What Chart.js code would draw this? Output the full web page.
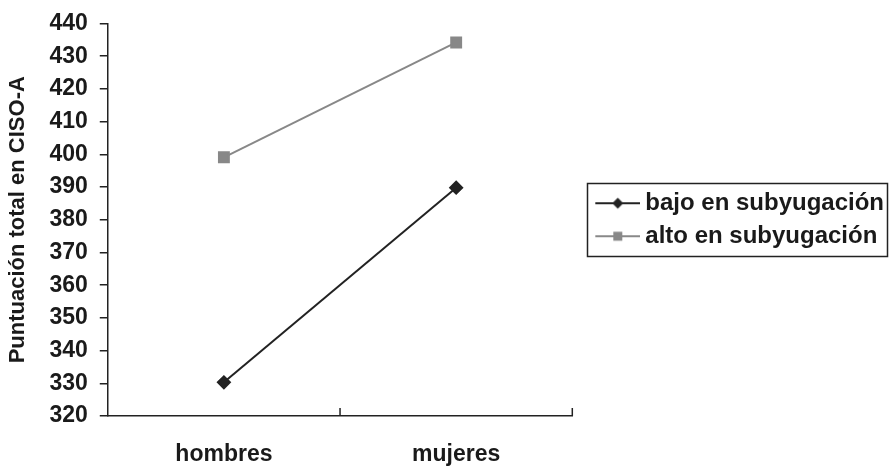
<!DOCTYPE html>
<html>
<head>
<meta charset="utf-8">
<script src="https://cdn.jsdelivr.net/npm/chart.js@4/dist/chart.umd.min.js"></script>
<style>
    html, body { margin: 0; padding: 0; background: #fff; }
</style>
</head>
<body>
<canvas id="chart" width="890" height="466"></canvas>
<script>
const categories = ["hombres", "mujeres"];
const seriesNames = ["bajo en subyugación", "alto en subyugación"];
const bajoValues = [330.3, 389.8];
const altoValues = [399.1, 434.2];
const yMin = 320;
const yMax = 440;
const yStep = 10;

const axisColor = "#222";
const textColor = "#1a1a1a";
const bajoColor = "#222";
const altoColor = "#888";

Chart.defaults.font.family = "'Liberation Sans', Arial, sans-serif";
Chart.defaults.font.weight = "bold";
Chart.defaults.color = textColor;

// line + marker picture for the legend; the left part stays blank so the
// sample sits close to its text
function legendSample(color, marker) {
    const c = document.createElement("canvas");
    c.width = 66;
    c.height = 14;
    const g = c.getContext("2d");
    g.strokeStyle = color;
    g.lineWidth = 2;
    g.beginPath();
    g.moveTo(21, 7);
    g.lineTo(66, 7);
    g.stroke();
    g.fillStyle = color;
    g.beginPath();
    if (marker === "diamond") {
        g.moveTo(43.5, 1.5);
        g.lineTo(49, 7);
        g.lineTo(43.5, 12.5);
        g.lineTo(38, 7);
    } else {
        g.rect(39, 2.5, 9, 9);
    }
    g.closePath();
    g.fill();
    return c;
}

const samples = [legendSample(bajoColor, "diamond"), legendSample(altoColor, "square")];

// category ticks on the x axis point up into the plot
const xTickMarks = {
    id: "xTickMarks",
    afterDraw(chart) {
        const x = chart.scales.x;
        const ctx = chart.ctx;
        const edges = [];
        for (let i = 1; i < categories.length; i++) {
            edges.push((x.getPixelForValue(i - 1) + x.getPixelForValue(i)) / 2);
        }
        edges.push(x.right);
        ctx.save();
        ctx.strokeStyle = axisColor;
        ctx.lineWidth = 1.5;
        edges.forEach(function (px) {
            ctx.beginPath();
            ctx.moveTo(px, x.top);
            ctx.lineTo(px, x.top - 8);
            ctx.stroke();
        });
        ctx.restore();
    }
};

const legendFrame = {
    id: "legendFrame",
    afterDraw(chart) {
        const boxes = chart.legend.legendHitBoxes;
        if (!boxes || !boxes.length) return;
        let l = Infinity, t = Infinity, r = -Infinity, b = -Infinity;
        boxes.forEach(function (h) {
            l = Math.min(l, h.left);
            t = Math.min(t, h.top);
            r = Math.max(r, h.left + h.width);
            b = Math.max(b, h.top + h.height);
        });
        const ctx = chart.ctx;
        const fl = Math.round(l + 6) + 0.5;
        const fr = Math.min(Math.round(r + 3), chart.width - 3) + 0.5;
        ctx.save();
        ctx.strokeStyle = axisColor;
        ctx.lineWidth = 1.5;
        ctx.strokeRect(fl, Math.round(t - 8) + 0.5, fr - fl, Math.round(b - t + 16));
        ctx.restore();
    }
};

new Chart(document.getElementById("chart"), {
    type: "line",
    data: {
        labels: categories,
        datasets: [
            {
                label: seriesNames[0],
                data: bajoValues,
                borderColor: bajoColor,
                backgroundColor: bajoColor,
                borderWidth: 2,
                pointStyle: "rectRot",
                pointRadius: 6,
                pointHoverRadius: 6,
                tension: 0
            },
            {
                label: seriesNames[1],
                data: altoValues,
                borderColor: altoColor,
                backgroundColor: altoColor,
                borderWidth: 2,
                pointStyle: "rect",
                pointRadius: 7,
                pointHoverRadius: 7,
                tension: 0
            }
        ]
    },
    options: {
        responsive: false,
        animation: false,
        layout: { autoPadding: false, padding: { top: 4, right: -4, left: 5, bottom: 0 } },
        plugins: {
            tooltip: { enabled: false },
            legend: {
                position: "right",
                fullSize: false,
                maxWidth: 340,
                labels: {
                    font: { size: 24, weight: "bold" },
                    color: textColor,
                    usePointStyle: true,
                    pointStyleWidth: 52,
                    padding: 9,
                    generateLabels: function (chart) {
                        return chart.data.datasets.map(function (ds, i) {
                            return {
                                text: ds.label,
                                pointStyle: samples[i],
                                fillStyle: ds.borderColor,
                                strokeStyle: ds.borderColor,
                                lineWidth: 0,
                                fontColor: textColor,
                                hidden: false,
                                datasetIndex: i
                            };
                        });
                    }
                }
            }
        },
        scales: {
            x: {
                offset: true,
                grid: { display: false, drawTicks: false },
                border: { display: true, color: axisColor, width: 1.5 },
                ticks: { font: { size: 23 }, color: textColor, padding: 25, maxRotation: 0 },
                afterFit: function (scale) { scale.height = 50; }
            },
            y: {
                min: yMin,
                max: yMax,
                grid: { display: true, drawOnChartArea: false, drawTicks: true, tickLength: 8, color: axisColor, lineWidth: 1.5 },
                border: { display: true, color: axisColor, width: 1.5 },
                ticks: { stepSize: yStep, autoSkip: false, font: { size: 23, lineHeight: 1 }, color: textColor, padding: 12 },
                title: {
                    display: true,
                    text: "Puntuación total en CISO-A",
                    font: { size: 22, weight: "bold" },
                    color: textColor,
                    padding: { top: 0, bottom: 6 }
                }
            }
        }
    },
    plugins: [xTickMarks, legendFrame]
});
</script>
</body>
</html>
